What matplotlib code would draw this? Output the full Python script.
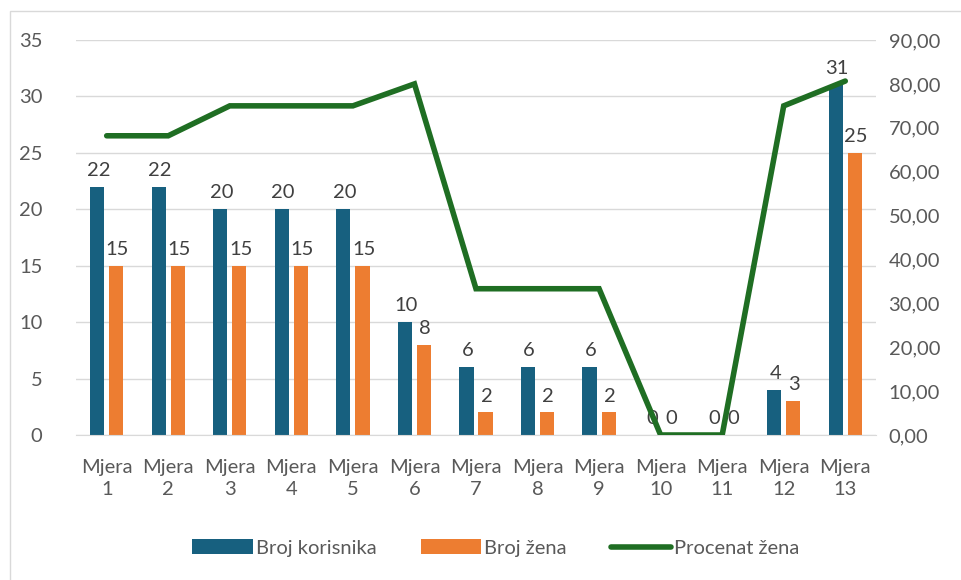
import matplotlib.pyplot as plt
import matplotlib.patches as patches
import numpy as np

plt.rcParams['font.family'] = ['Lato', 'DejaVu Sans']

categories = ['Mjera\n%d' % i for i in range(1, 14)]
broj_korisnika = [22, 22, 20, 20, 20, 10, 6, 6, 6, 0, 0, 4, 31]
broj_zena = [15, 15, 15, 15, 15, 8, 2, 2, 2, 0, 0, 3, 25]
procenat_zena = [68.18, 68.18, 75.00, 75.00, 75.00, 80.00, 33.33, 33.33, 33.33, 0.00, 0.00, 75.00, 80.65]

BLUE = '#17607F'
ORANGE = '#ED7D31'
GREEN = '#1F6E23'
TXT = '#595959'
FS = 14.5

fig = plt.figure(figsize=(9.61, 5.8), dpi=100)
fig.patches.append(patches.Rectangle((10 / 961, -0.01), 1.0, 1 - 11 / 580 + 0.01,
                                     transform=fig.transFigure, facecolor='none',
                                     edgecolor='#D9D9D9', linewidth=1))
ax = fig.add_axes([0.079, 0.25, 0.8326, 0.681])
x = np.arange(len(categories))
w = 0.23
off = 0.155
b1 = ax.bar(x - off, broj_korisnika, w, color=BLUE, label='Broj korisnika', zorder=2)
b2 = ax.bar(x + off, broj_zena, w, color=ORANGE, label='Broj žena', zorder=2)
for xi, v in zip(x, broj_korisnika):
    ax.text(xi - off + 0.02, v + 0.7, str(v), ha='center', va='bottom', fontsize=FS, color='#404040', zorder=4)
for xi, v in zip(x, broj_zena):
    ax.text(xi + off + 0.02, v + 0.7, str(v), ha='center', va='bottom', fontsize=FS, color='#404040', zorder=4)

ax.set_ylim(0, 35)
ax.set_xlim(-0.5, len(categories) - 0.5)
ax.set_yticks(range(0, 36, 5))
ax.set_xticks(x)
ax.set_xticklabels(categories, linespacing=1.35)
ax.yaxis.grid(True, color='#D9D9D9', linewidth=1)
ax.set_axisbelow(True)
for s in ['top', 'right', 'left']:
    ax.spines[s].set_visible(False)
ax.spines['bottom'].set_color('#D9D9D9')
ax.tick_params(axis='both', length=0, labelsize=FS, colors=TXT)
ax.tick_params(axis='y', pad=24)
ax.tick_params(axis='x', pad=17)

ax2 = ax.twinx()
ln, = ax2.plot(x, procenat_zena, color=GREEN, linewidth=4, label='Procenat žena', zorder=3,
               solid_capstyle='round', solid_joinstyle='miter')
ax2.set_ylim(0, 90)
ax2.set_yticks(range(0, 91, 10))
ax2.set_yticklabels(['%d,00' % v for v in range(0, 91, 10)])
for s in ['top', 'right', 'left', 'bottom']:
    ax2.spines[s].set_visible(False)
ax2.tick_params(axis='y', length=0, labelsize=FS, colors=TXT, pad=9)

fig.legend(handles=[b1, b2, ln], loc='center', bbox_to_anchor=(0.516, 1 - 548 / 580), ncol=3,
           frameon=False, fontsize=FS, labelcolor=TXT, handlelength=3.0, handletextpad=0.15,
           columnspacing=2.2)

fig.savefig('out.png', dpi=100)
plt.close()
